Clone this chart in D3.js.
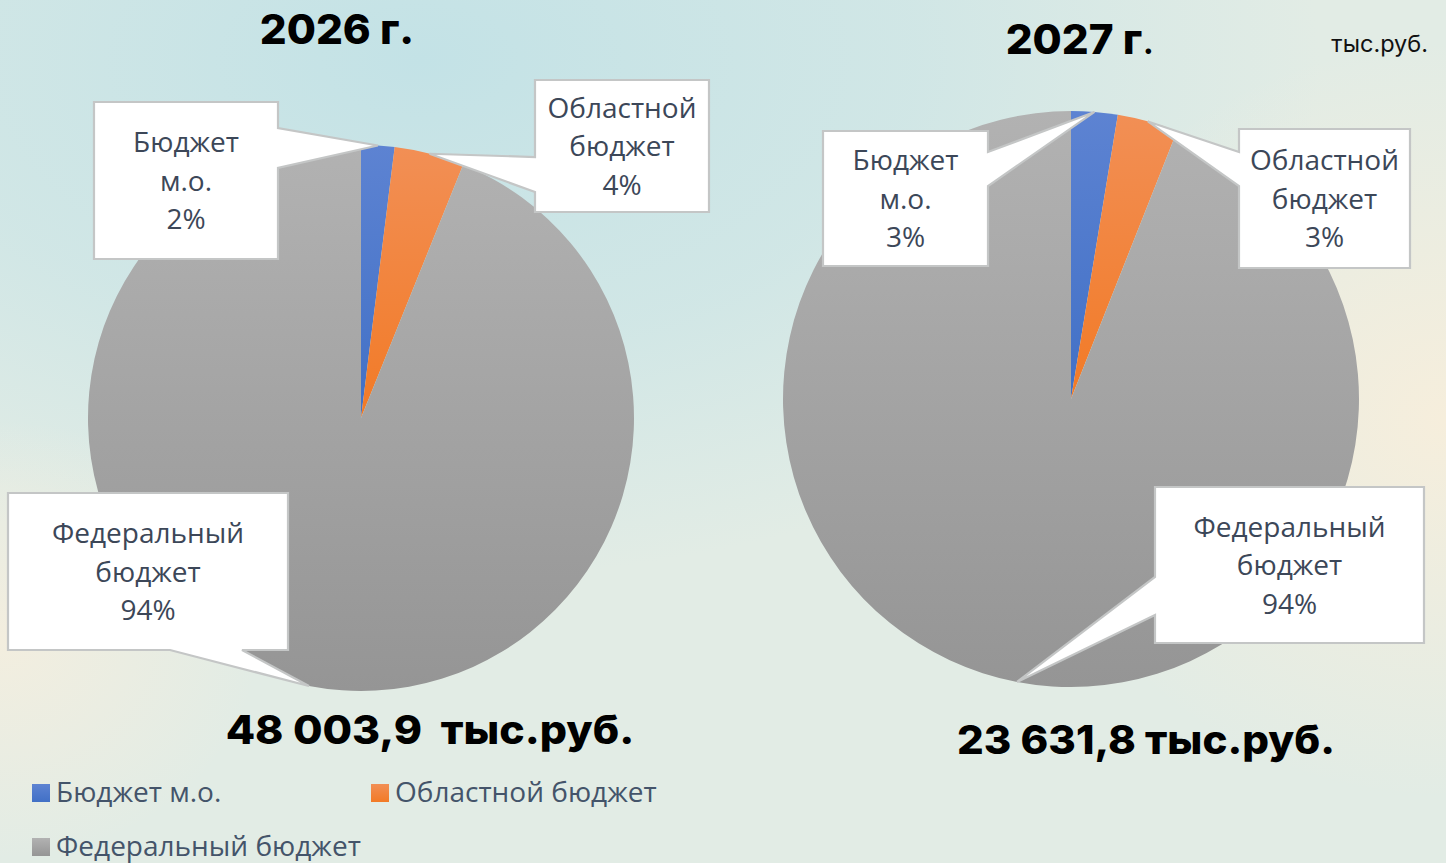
<!DOCTYPE html>
<html><head><meta charset="utf-8">
<script src="https://cdn.jsdelivr.net/npm/d3@7/dist/d3.min.js"></script>
<style>html,body{margin:0;padding:0;overflow:hidden;background:#e4ede6}</style>
</head><body><svg id="c" width="1446" height="863"></svg>
<script>
// ---- data ----
const categories = ["Бюджет м.о.", "Областной бюджет", "Федеральный бюджет"];
const labelLines = [["Бюджет", "м.о."], ["Областной", "бюджет"], ["Федеральный", "бюджет"]];
const years = ["2026 г", "2027 г"];
const values2026 = [945.0, 1985.0, 45073.9];
const values2027 = [614.4, 803.5, 22213.9];
const totals = ["48 003,9  тыс.руб.", "23 631,8 тыс.руб."];
const unitLabel = "тыс.руб.";

const colorsTop = ["#5d83d2", "#f28f55", "#b2b2b2"];
const colorsBot = ["#4170c6", "#f27a26", "#959595"];

const svg = d3.select("#c");
const defs = svg.append("defs");

// background
function radial(id, stops) {
  const g = defs.append("radialGradient").attr("id", id);
  stops.forEach(s => g.append("stop").attr("offset", s[0]).attr("stop-color", s[1]).attr("stop-opacity", s[2]));
}
radial("bgTeal", [[0, "#c3e2e6", 1], [0.55, "#c9e4e6", 0.7], [1, "#c9e4e6", 0]]);
radial("bgCreamR", [[0, "#f6eedc", 1], [1, "#f6eedc", 0]]);
radial("bgCreamL", [[0, "#f3eedf", 1], [1, "#f3eedf", 0]]);
svg.append("rect").attr("width", 1446).attr("height", 863).attr("fill", "#e2ece5");
svg.append("ellipse").attr("cx", 420).attr("cy", 60).attr("rx", 900).attr("ry", 520).attr("fill", "url(#bgTeal)");
svg.append("ellipse").attr("cx", 1446).attr("cy", 420).attr("rx", 420).attr("ry", 380).attr("fill", "url(#bgCreamR)");
svg.append("ellipse").attr("cx", 0).attr("cy", 640).attr("rx", 260).attr("ry", 220).attr("fill", "url(#bgCreamL)");

// slice gradients
categories.forEach((c, i) => {
  const g = defs.append("linearGradient").attr("id", "sg" + i).attr("x1", 0).attr("y1", 0).attr("x2", 0).attr("y2", 1);
  g.append("stop").attr("offset", 0).attr("stop-color", colorsTop[i]);
  g.append("stop").attr("offset", 1).attr("stop-color", colorsBot[i]);
});

const pie = d3.pie().sort(null).value(d => d);
const pctFmt = d3.format(".0%");

const charts = [
  { values: values2026, cx: 361, cy: 418, r: 273,
    boxes: [
      { x: 94, y: 102, w: 184, h: 157, edge: "right", base: [128, 168] },
      { x: 535, y: 80, w: 174, h: 132, edge: "left", base: [157, 192] },
      { x: 8, y: 493, w: 280, h: 157, edge: "bottom", base: [170, 242] }
    ],
    title: { x: 337, y: 44 },
    total: { x: 430, y: 744 } },
  { values: values2027, cx: 1071, cy: 399, r: 288,
    boxes: [
      { x: 823, y: 131, w: 165, h: 135, edge: "right", base: [152, 186] },
      { x: 1239, y: 129, w: 171, h: 139, edge: "left", base: [152, 186] },
      { x: 1155, y: 487, w: 269, h: 156, edge: "left", base: [577, 615] }
    ],
    title: { x: 1080, y: 54 },
    total: { x: 1146, y: 754 } }
];

function calloutPath(b, tip) {
  const x = b.x, y = b.y, w = b.w, h = b.h, p = b.base;
  const t = tip[0] + "," + tip[1];
  if (b.edge === "right")
    return `M${x},${y}L${x + w},${y}L${x + w},${p[0]}L${t}L${x + w},${p[1]}L${x + w},${y + h}L${x},${y + h}Z`;
  if (b.edge === "left")
    return `M${x},${y}L${x + w},${y}L${x + w},${y + h}L${x},${y + h}L${x},${p[1]}L${t}L${x},${p[0]}Z`;
  return `M${x},${y}L${x + w},${y}L${x + w},${y + h}L${p[1]},${y + h}L${t}L${p[0]},${y + h}L${x},${y + h}Z`;
}

charts.forEach((ch, k) => {
  const arcs = pie(ch.values);
  const arc = d3.arc().innerRadius(0).outerRadius(ch.r);
  const total = d3.sum(ch.values);
  const g = svg.append("g").attr("transform", `translate(${ch.cx},${ch.cy})`);
  g.selectAll("path.slice").data(arcs).join("path")
    .attr("class", "slice")
    .attr("d", arc)
    .attr("fill", (d, i) => `url(#sg${i})`);

  // callouts
  arcs.forEach((d, i) => {
    const a = (d.startAngle + d.endAngle) / 2;
    const tip = [ch.cx + ch.r * Math.sin(a), ch.cy - ch.r * Math.cos(a)];
    const b = ch.boxes[i];
    svg.append("path").attr("d", calloutPath(b, tip))
      .attr("fill", "#ffffff").attr("stroke", "#c4c6c6").attr("stroke-width", 2.2)
      .attr("stroke-linejoin", "miter");
    const lines = labelLines[i].concat([pctFmt(d.value / total)]);
    const cxb = b.x + b.w / 2, cyb = b.y + b.h / 2;
    const lh = 38.5;
    const t = svg.append("text")
      .attr("font-family", "'Open Sans', 'Noto Sans', sans-serif")
      .attr("font-size", 28).attr("fill", "#3c4758")
      .attr("text-anchor", "middle");
    lines.forEach((ln, j) => {
      t.append("tspan").attr("x", cxb)
        .attr("y", cyb + (j - (lines.length - 1) / 2) * lh + 10)
        .text(ln);
    });
  });

  // title
  const tt = svg.append("g").attr("transform", `translate(${ch.title.x},${ch.title.y}) scale(1.03,1)`)
    .append("text")
    .attr("text-anchor", "middle")
    .attr("font-family", "Inter, sans-serif").attr("font-size", 41).attr("font-weight", 800)
    .attr("fill", "#000");
  tt.append("tspan").text(years[k]);
  tt.append("tspan").attr("font-weight", k === 0 ? 800 : 400).text(".");

  // total
  svg.append("g").attr("transform", `translate(${ch.total.x},${ch.total.y}) scale(${k === 0 ? 1.07 : 1.05},1)`)
    .append("text")
    .attr("text-anchor", "middle").style("white-space", "pre")
    .attr("font-family", "Inter, sans-serif").attr("font-size", 40).attr("font-weight", 800)
    .attr("fill", "#000").text(totals[k]);
});

// unit label
svg.append("text").attr("x", 1428).attr("y", 52).attr("text-anchor", "end")
  .attr("font-family", "Inter, sans-serif").attr("font-size", 23.5).attr("fill", "#111")
  .text(unitLabel);

// legend
const legendPos = [[32, 784], [371, 784], [32, 838]];
const lg = svg.append("g").selectAll("g").data(categories).join("g")
  .attr("transform", (d, i) => `translate(${legendPos[i][0]},${legendPos[i][1]})`);
lg.append("rect").attr("width", 18).attr("height", 18).attr("fill", (d, i) => `url(#sg${i})`);
lg.append("text").attr("x", 24).attr("y", 18)
  .attr("font-family", "'Open Sans', 'Noto Sans', sans-serif").attr("font-size", 28)
  .attr("fill", "#44546a").text(d => d);
</script></body></html>
